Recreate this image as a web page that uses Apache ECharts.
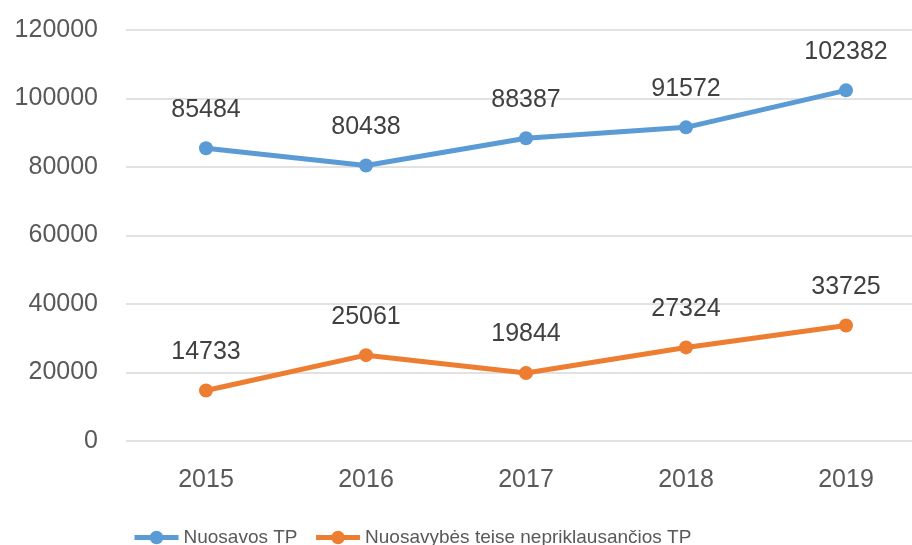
<!DOCTYPE html>
<html>
<head>
<meta charset="utf-8">
<script src="https://cdn.jsdelivr.net/npm/echarts@6/dist/echarts.min.js"></script>
<style>
  html, body { margin: 0; padding: 0; background: #fff; }
  #chart { width: 912px; height: 545px; }
</style>
</head>
<body>
<div id="chart"></div>
<script>
const years = ['2015', '2016', '2017', '2018', '2019']
const nuosavos = [85484, 80438, 88387, 91572, 102382]
const nepriklausancios = [14733, 25061, 19844, 27324, 33725]
const seriesNames = ['Nuosavos TP', 'Nuosavybės teise nepriklausančios TP']

const chart = echarts.init(document.getElementById('chart'))
const font = 'Liberation Sans, Arial, sans-serif'

const makeSeries = (name, data, color) => ({
  name,
  type: 'line',
  data,
  symbol: 'circle',
  symbolSize: 14,
  lineStyle: { width: 5, color },
  itemStyle: { color },
  label: {
    show: true,
    position: 'top',
    distance: 19,
    color: '#404040',
    fontSize: 25,
    fontFamily: font
  }
})

chart.setOption({
  animation: false,
  // grid runs past the right edge, like the cropped original
  grid: { left: 126, width: 800, top: 30, bottom: 104, outerBoundsMode: 'none' },
  legend: {
    bottom: -7,
    left: 127,
    itemWidth: 44,
    itemHeight: 17,
    itemGap: 16,
    lineStyle: { width: 5 },
    textStyle: { color: '#595959', fontSize: 19, fontFamily: font },
    data: seriesNames
  },
  xAxis: {
    type: 'category',
    data: years,
    axisLine: { show: false },
    axisTick: { show: false },
    axisLabel: { color: '#595959', fontSize: 25, fontFamily: font, margin: 27 }
  },
  yAxis: {
    type: 'value',
    min: 0,
    max: 120000,
    interval: 20000,
    axisLine: { show: false },
    axisTick: { show: false },
    axisLabel: { color: '#595959', fontSize: 25, fontFamily: font, margin: 28, formatter: (v) => String(v) },
    splitLine: { lineStyle: { color: '#d9d9d9', width: 1.5 } }
  },
  series: [
    makeSeries(seriesNames[0], nuosavos, '#5b9bd5'),
    makeSeries(seriesNames[1], nepriklausancios, '#ed7d31')
  ]
})
</script>
</body>
</html>
